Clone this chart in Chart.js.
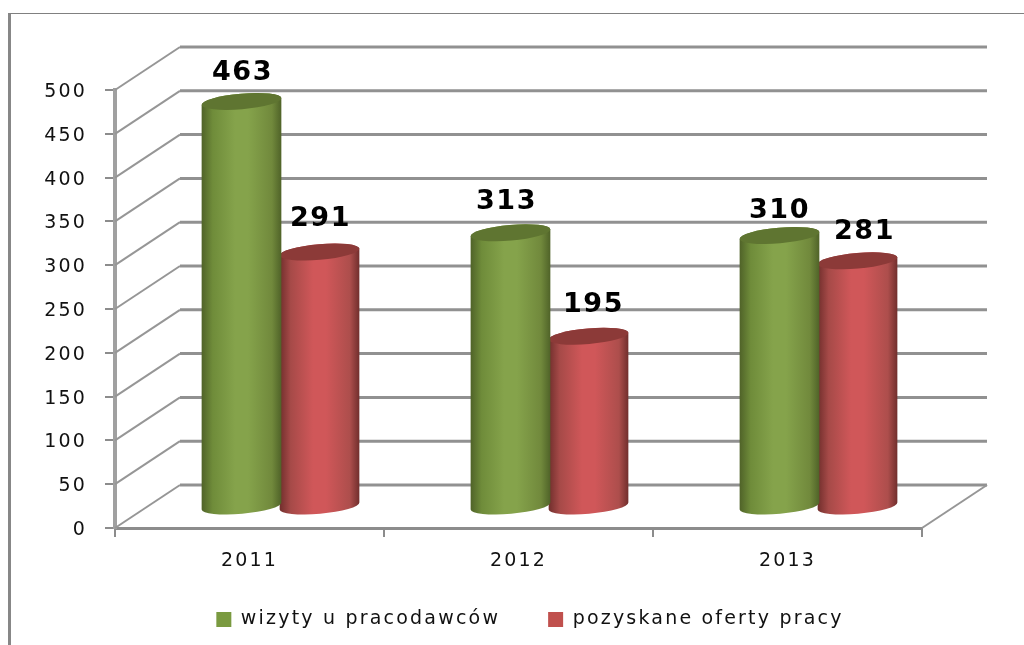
<!DOCTYPE html>
<html lang="pl">
<head>
<meta charset="utf-8">
<title>Wizyty u pracodawców</title>
<script src="https://cdn.jsdelivr.net/npm/chart.js@4/dist/chart.umd.min.js"></script>
<style>
    html, body { margin: 0; padding: 0; background: #fff; }
    #wrap { position: relative; width: 1024px; height: 645px; overflow: hidden; }
    #frame { position: absolute; left: 8px; top: 13px; right: 0; bottom: 0; border-left: 3px solid #878787; border-top: 1px solid #808080; }
    canvas { position: absolute; left: 0; top: 0; }
</style>
</head>
<body>
<div id="wrap">
    <div id="frame"></div>
    <canvas id="chart" width="1024" height="645"></canvas>
</div>
<script>
const years = ['2011', '2012', '2013'];
const visits = [463, 313, 310];
const offers = [291, 195, 281];
const seriesNames = ['wizyty u pracodawców', 'pozyskane oferty pracy'];

// 3D look of the old office chart
const depth = { x: 65, y: -43 };
const barDepth = { x: 31, y: -21 };
const tilt = -5 * Math.PI / 180;
const shades = [
    { edge: '#4f6228', soft: '#6f8c3a', mid: '#85a34b', side: '#71893c', top: '#5f7531' },
    { edge: '#702e2c', soft: '#a64a48', mid: '#d05759', side: '#ad4e4c', top: '#8c3a38' }
];
// data labels were moved by hand in the original
const labelNudge = [
    [{ x: 1, y: -21 }, { x: 1, y: -26 }],
    [{ x: -4, y: -24 }, { x: 5, y: -24 }],
    [{ x: 0, y: -17 }, { x: 7, y: -22 }]
];

const spacingPlugin = {
    id: 'spacing',
    beforeLayout(chart) {
        chart.ctx.letterSpacing = '2.2px';
    },
    afterLayout(chart) {
        // legend is centred under the whole picture, not the plot
        chart.legend.left = 36;
        chart.legend.right = 1024;
        chart.legend.top = 562;
    }
};

const wallsPlugin = {
    id: 'walls',
    beforeDatasetsDraw(chart) {
        const { ctx, chartArea, scales: { y } } = chart;
        ctx.save();
        y.ticks.forEach(t => {
            const py = y.getPixelForValue(t.value);
            ctx.strokeStyle = '#969696';
            ctx.lineWidth = 2;
            ctx.beginPath();
            ctx.moveTo(chartArea.left, py);
            ctx.lineTo(chartArea.left + depth.x, py + depth.y);
            ctx.stroke();
            ctx.strokeStyle = '#919191';
            ctx.lineWidth = 3;
            ctx.beginPath();
            ctx.moveTo(chartArea.left + depth.x, py + depth.y);
            ctx.lineTo(chartArea.right + depth.x, py + depth.y);
            ctx.stroke();
        });
        ctx.strokeStyle = '#969696';
        ctx.lineWidth = 2;
        ctx.beginPath();
        ctx.moveTo(chartArea.right, chartArea.bottom);
        ctx.lineTo(chartArea.right + depth.x, chartArea.bottom + depth.y);
        ctx.stroke();
        ctx.restore();
    }
};

function drawCylinder(ctx, bar, shade) {
    const cx = bar.x + barDepth.x;
    const top = bar.y + barDepth.y;
    const base = bar.base + barDepth.y;
    const rx = bar.width / 2 + 1;
    const ry = 7.8;

    const grad = ctx.createLinearGradient(cx - rx, 0, cx + rx, 0);
    grad.addColorStop(0, shade.edge);
    grad.addColorStop(0.14, shade.soft);
    grad.addColorStop(0.42, shade.mid);
    grad.addColorStop(0.58, shade.mid);
    grad.addColorStop(0.88, shade.side);
    grad.addColorStop(1, shade.edge);

    ctx.fillStyle = grad;
    ctx.beginPath();
    ctx.ellipse(cx, base, rx, ry, tilt, Math.PI, 0, true);
    ctx.ellipse(cx, top, rx, ry, tilt, 0, Math.PI, true);
    ctx.closePath();
    ctx.fill();

    ctx.fillStyle = shade.top;
    ctx.beginPath();
    ctx.ellipse(cx, top, rx, ry, tilt, 0, Math.PI * 2);
    ctx.fill();
}

const cylinderPlugin = {
    id: 'cylinders',
    beforeDatasetDraw(chart, args) {
        const { ctx } = chart;
        ctx.save();
        args.meta.data.forEach(bar => drawCylinder(ctx, bar, shades[args.index]));
        ctx.restore();
        return false;
    },
    afterDatasetsDraw(chart) {
        const { ctx } = chart;
        ctx.save();
        ctx.font = 'bold 27px "DejaVu Sans"';
        ctx.letterSpacing = '1.5px';
        ctx.fillStyle = '#000';
        ctx.textAlign = 'center';
        ctx.textBaseline = 'alphabetic';
        chart.data.datasets.forEach((ds, d) => {
            chart.getDatasetMeta(d).data.forEach((bar, i) => {
                const nudge = labelNudge[i][d];
                ctx.fillText(ds.data[i], bar.x + barDepth.x + nudge.x, bar.y + barDepth.y + nudge.y);
            });
        });
        ctx.restore();
    }
};

new Chart(document.getElementById('chart'), {
    type: 'bar',
    data: {
        labels: years,
        datasets: [
            { label: seriesNames[0], data: visits, backgroundColor: '#7a9a40' },
            { label: seriesNames[1], data: offers, backgroundColor: '#c0504d' }
        ]
    },
    options: {
        responsive: false,
        animation: false,
        categoryPercentage: 0.58,
        barPercentage: 1,
        layout: { padding: { left: 0, right: 102, top: 90, bottom: -20 } },
        font: { family: '"DejaVu Sans"' },
        plugins: {
            tooltip: { enabled: false },
            legend: {
                position: 'bottom',
                labels: {
                    boxWidth: 15,
                    boxHeight: 15,
                    padding: 48,
                    color: '#111',
                    font: { family: '"DejaVu Sans"', size: 19 }
                }
            }
        },
        scales: {
            x: {
                afterFit(scale) { scale.height = 60; },
                border: { color: '#8c8c8c', width: 3 },
                grid: { drawOnChartArea: false, color: '#8c8c8c', lineWidth: 2, tickLength: 9 },
                ticks: { color: '#111', padding: 13, font: { family: '"DejaVu Sans"', size: 19 } }
            },
            y: {
                min: 0,
                max: 500,
                afterFit(scale) { scale.width = 115; },
                border: { color: '#a0a0a0', width: 4 },
                grid: { drawOnChartArea: false, color: '#8c8c8c', lineWidth: 2, tickLength: 10 },
                ticks: { stepSize: 50, color: '#111', padding: 18, labelOffset: 2, font: { family: '"DejaVu Sans"', size: 19 } }
            }
        }
    },
    plugins: [spacingPlugin, wallsPlugin, cylinderPlugin]
});
</script>
</body>
</html>
